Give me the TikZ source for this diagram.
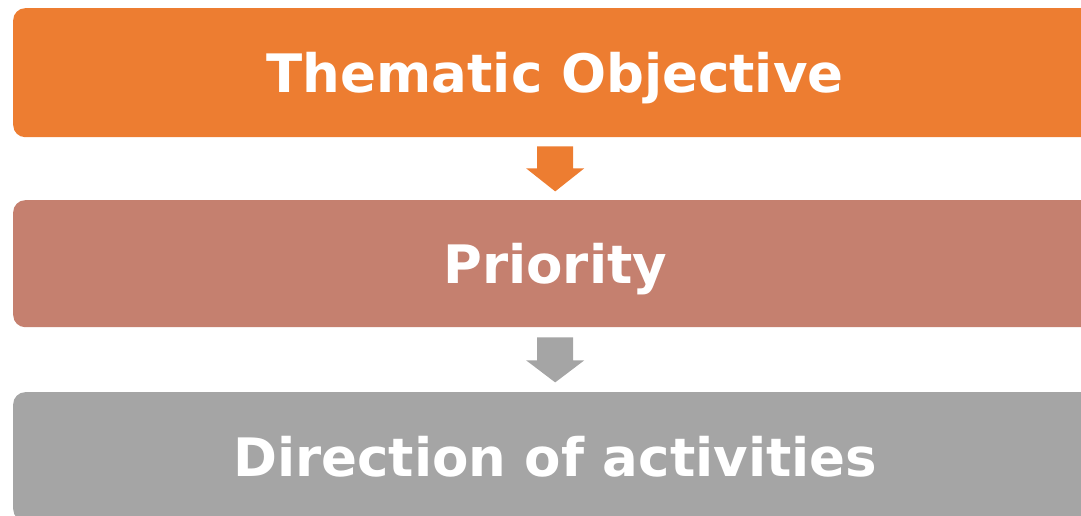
\documentclass[tikz,border=0pt]{standalone}
\usepackage{fontspec}
\setmainfont{DejaVu Sans}
\usetikzlibrary{calc}
\definecolor{cOrange}{HTML}{ED7D31}
\definecolor{cRose}{HTML}{C5806F}
\definecolor{cGray}{HTML}{A5A5A5}
\tikzset{
  stagebox/.style={rounded corners=12pt, minimum width=1084pt, minimum height=#1,
    text=white, font=\fontsize{53}{60}\selectfont\bfseries, text height=39pt, text depth=0pt,
    inner sep=0pt, anchor=north west},
  downarrow/.style={fill=#1, draw=none}
}
\begin{document}
\begin{tikzpicture}[x=1pt,y=1pt]
\useasboundingbox (0,0) rectangle (1081,516);
\clip (0,0) rectangle (1081,516);
\node[stagebox=129pt, fill=cOrange] (b1) at (13,508) {Thematic Objective};
\node[stagebox=127pt, fill=cRose] (b2) at (13,316) {Priority};
\node[stagebox=129pt, fill=cGray] (b3) at (13,124) {Direction of activities};
\fill[downarrow=cOrange] ($(b1.south)+(-18,-9)$) -- ($(b1.south)+(18,-9)$) -- ($(b1.south)+(18,-31)$)
  -- ($(b1.south)+(29,-31)$) -- ($(b1.south)+(0,-54)$) -- ($(b1.south)+(-29,-31)$) -- ($(b1.south)+(-18,-31)$) -- cycle;
\fill[downarrow=cGray] ($(b2.south)+(-18,-10)$) -- ($(b2.south)+(18,-10)$) -- ($(b2.south)+(18,-33)$)
  -- ($(b2.south)+(29,-33)$) -- ($(b2.south)+(0,-55)$) -- ($(b2.south)+(-29,-33)$) -- ($(b2.south)+(-18,-33)$) -- cycle;
\end{tikzpicture}
\end{document}
